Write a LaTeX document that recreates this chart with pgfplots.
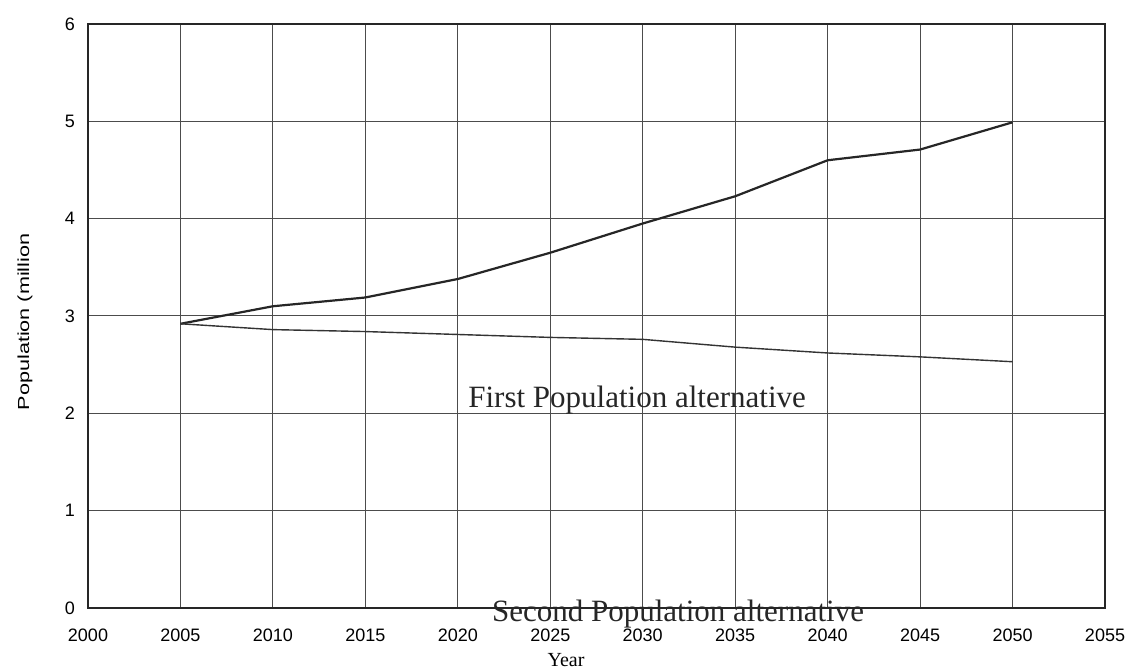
\documentclass[border=0pt]{standalone}
\usepackage{pgfplots}
\pgfplotsset{compat=1.18}
\usepackage{fontspec}
\setmainfont{Liberation Sans}
\newfontfamily\serif{Liberation Serif}
\begin{document}
\begin{tikzpicture}
\useasboundingbox (-44pt,-32pt) rectangle (518.5pt,304pt);
\begin{axis}[
  scale only axis,
  width=508.5pt, height=292pt,
  xmin=2000, xmax=2055, ymin=0, ymax=6,
  xtick={2000,2005,...,2055}, ytick={0,1,...,6},
  xticklabel style={/pgf/number format/1000 sep={}, font=\fontsize{9}{10}\selectfont, yshift=-7pt},
  yticklabel style={font=\fontsize{9}{10}\selectfont, xshift=-3pt},
  /pgf/number format/assume math mode=true,
  major tick length=0pt,
  grid=major,
  major grid style={line width=0.5pt, draw=black!70},
  axis line style={line width=1pt, draw=black!85},
  clip=false,
  xlabel={\serif\fontsize{10}{11}\selectfont Year},
  xlabel style={at={(axis description cs:0.47,0)}, anchor=center, yshift=-26pt},
  ylabel={\scalebox{1.35}[1]{\fontsize{8}{9}\selectfont Population (million}},
  ylabel style={at={(axis description cs:0,0.49)}, anchor=center, yshift=31.5pt},
]
\addplot[draw=black!85, line width=1.1pt] coordinates {
(2005,2.92) (2010,3.10) (2015,3.19) (2020,3.38) (2025,3.65) (2030,3.95) (2035,4.23) (2040,4.60) (2045,4.71) (2050,4.99)
};
\addplot[draw=black!80, line width=0.7pt] coordinates {
(2005,2.92) (2010,2.86) (2015,2.84) (2020,2.81) (2025,2.78) (2030,2.76) (2035,2.68) (2040,2.62) (2045,2.58) (2050,2.53)
};
\node[anchor=base west, inner sep=0pt, font=\serif\fontsize{15.5}{17}\selectfont, text=black!85] at (axis cs:2020.55,2.055) {First Population alternative};
\node[anchor=base west, inner sep=0pt, font=\serif\fontsize{15.5}{17}\selectfont, text=black!85] at (axis cs:2021.83,-0.134) {Second Population alternative};
\end{axis}
\end{tikzpicture}
\end{document}
